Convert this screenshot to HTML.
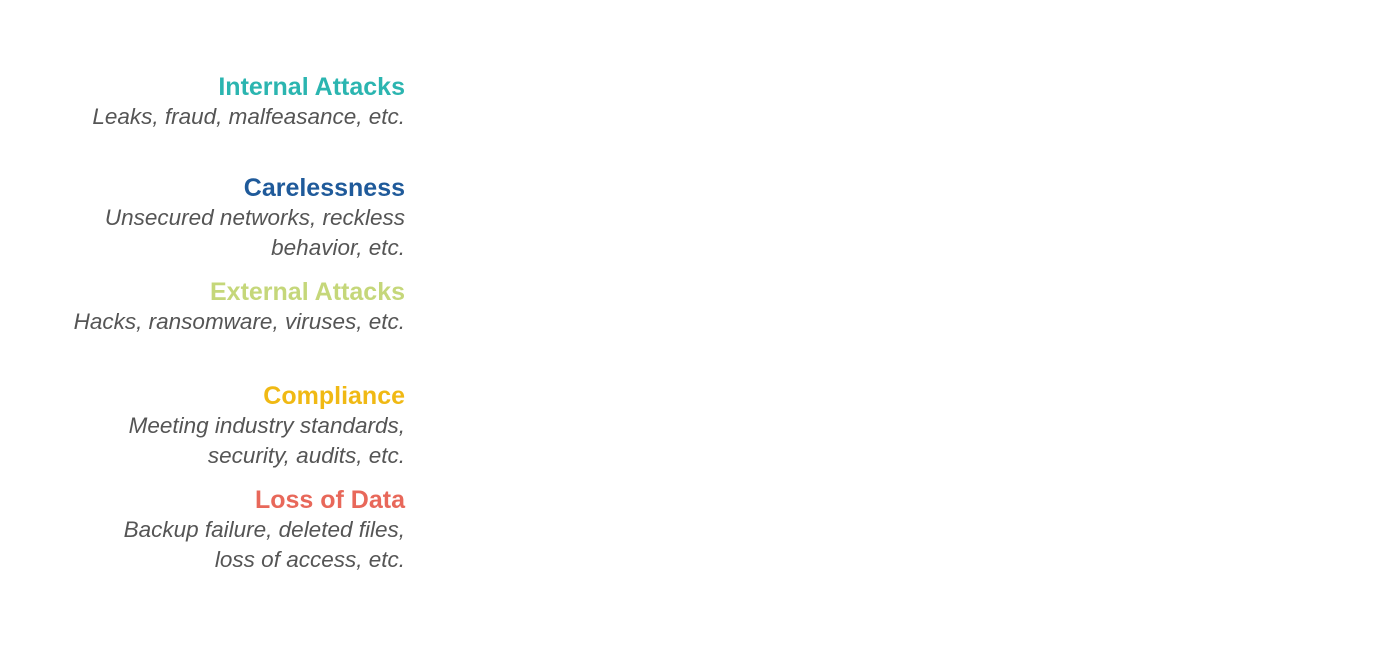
<!DOCTYPE html>
<html><head><meta charset="utf-8"><style>
html,body{margin:0;padding:0;background:#fff;width:1400px;height:655px;overflow:hidden}
.l{position:absolute;right:995px;white-space:nowrap;font-family:"Liberation Sans",sans-serif;line-height:30px;height:30px}
.t{font-weight:bold;font-size:25px}
.i{font-style:italic;font-size:22.5px;color:#555;font-weight:normal}
</style></head><body>
<div class="l t" style="top:72px;color:#2bb5b0">Internal Attacks</div>
<div class="l i" style="top:102px">Leaks, fraud, malfeasance, etc.</div>
<div class="l t" style="top:173px;color:#1f5a9a">Carelessness</div>
<div class="l i" style="top:203px">Unsecured networks, reckless</div>
<div class="l i" style="top:233px">behavior, etc.</div>
<div class="l t" style="top:277px;color:#c5d77a">External Attacks</div>
<div class="l i" style="top:307px">Hacks, ransomware, viruses, etc.</div>
<div class="l t" style="top:381px;color:#f0b914">Compliance</div>
<div class="l i" style="top:411px">Meeting industry standards,</div>
<div class="l i" style="top:441px">security, audits, etc.</div>
<div class="l t" style="top:485px;color:#e8685a">Loss of Data</div>
<div class="l i" style="top:515px">Backup failure, deleted files,</div>
<div class="l i" style="top:545px">loss of access, etc.</div>
</body></html>
